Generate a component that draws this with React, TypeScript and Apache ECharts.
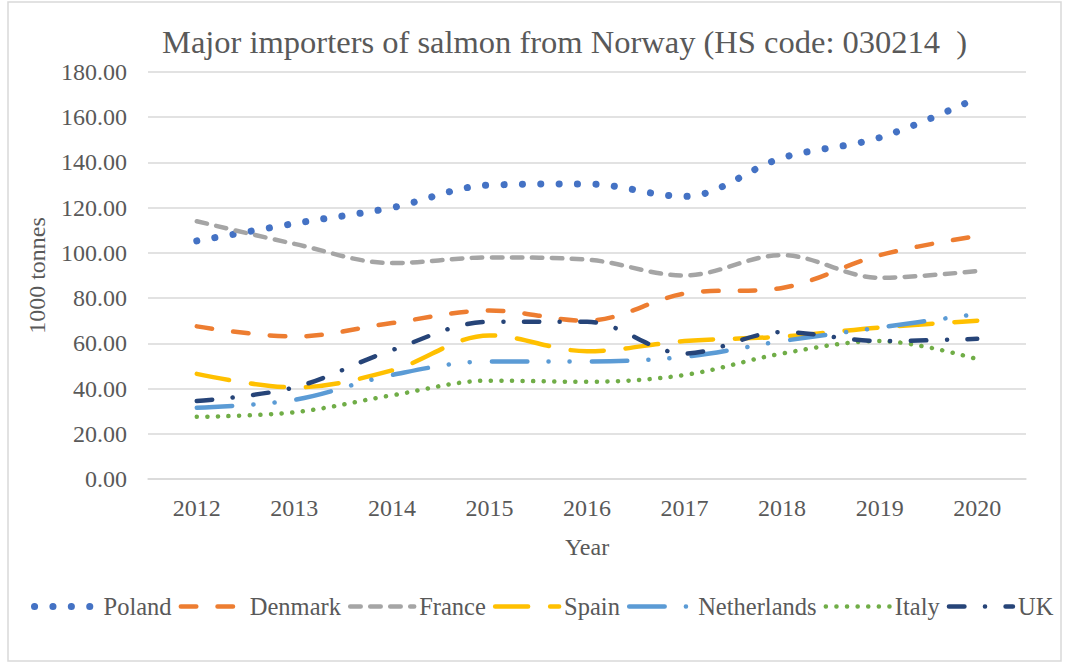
import React, { useEffect, useRef } from "react";
import * as echarts from "echarts";

const years = ["2012", "2013", "2014", "2015", "2016", "2017", "2018", "2019", "2020"];
const poland = [105.3, 113.0, 120.0, 130.0, 130.5, 125.0, 142.0, 151.0, 168.5];
const denmark = [67.5, 63.0, 69.0, 74.5, 70.0, 82.0, 84.5, 99.0, 107.5];
const france = [114.0, 104.0, 95.5, 98.0, 97.0, 90.0, 99.0, 89.0, 92.0];
const spain = [46.5, 40.5, 48.0, 63.5, 56.5, 61.0, 63.0, 67.0, 70.0];
const netherlands = [31.5, 35.0, 46.0, 52.0, 52.0, 54.0, 61.0, 67.0, 73.0];
const italy = [27.5, 29.5, 37.0, 43.5, 43.0, 46.0, 55.5, 61.0, 53.0];
const uk = [34.5, 40.5, 57.0, 69.5, 69.5, 55.5, 65.0, 61.0, 62.0];

const FONT = "Liberation Serif";
const GREY = "#595959";

export default function App() {
  const ref = useRef<HTMLDivElement>(null);
  useEffect(() => {
    const chart = echarts.init(ref.current!, null, { renderer: "svg" });
    const mk = (name: string, data: number[], color: string, width: number, dash: number[]) => ({
      name,
      type: "line",
      data,
      smooth: 0.35,
      symbol: "none",
      showSymbol: false,
      lineStyle: { color, width, type: dash, cap: "round", join: "round" },
      itemStyle: { color },
    });
    chart.setOption({
      animation: false,
      title: {
        text: "Major importers of salmon from Norway (HS code: 030214  )",
        left: 157,
        top: 20,
        textStyle: { fontFamily: FONT, fontSize: 32.5, fontWeight: "normal", color: GREY },
      },
      grid: { left: 148, right: 40, top: 72, bottom: 185 },
      xAxis: {
        type: "category",
        data: years,
        boundaryGap: true,
        name: "Year",
        nameLocation: "middle",
        nameGap: 56,
        nameTextStyle: { fontFamily: FONT, fontSize: 24, color: GREY },
        axisLine: { lineStyle: { color: "#d9d9d9", width: 1.5 } },
        axisTick: { show: false },
        axisLabel: { fontFamily: FONT, fontSize: 24, color: GREY, margin: 17 },
      },
      yAxis: {
        type: "value",
        min: 0,
        max: 180,
        interval: 20,
        name: "1000 tonnes",
        nameLocation: "middle",
        nameGap: 99,
        nameTextStyle: { fontFamily: FONT, fontSize: 24, color: GREY },
        axisLabel: { fontFamily: FONT, fontSize: 24, color: GREY, margin: 21, formatter: (v: number) => v.toFixed(2) },
        splitLine: { lineStyle: { color: "#d9d9d9", width: 1.5 } },
        axisLine: { show: false },
        axisTick: { show: false },
      },
      legend: {
        bottom: 40,
        left: 26,
        itemWidth: 64,
        itemHeight: 10,
        itemGap: 7,
        itemStyle: { opacity: 0 },
        lineStyle: { width: "inherit" },
        textStyle: { fontFamily: FONT, fontSize: 24.5, color: GREY },
        data: ["Poland", "Denmark", "France", "Spain", "Netherlands", "Italy", "UK"],
      },
      graphic: [
        {
          type: "rect",
          shape: { x: 8, y: 2, width: 1053, height: 659 },
          style: { fill: "none", stroke: "#d9d9d9", lineWidth: 1.5 },
          silent: true,
        },
      ],
      series: [
        mk("Poland", poland, "#4472c4", 7, [0.1, 18.3]),
        mk("Denmark", denmark, "#ed7d31", 4.5, [15.5, 21.2]),
        mk("France", france, "#a5a5a5", 4.5, [10.5, 9.5]),
        mk("Spain", spain, "#ffc000", 4.5, [33, 22]),
        mk("Netherlands", netherlands, "#5b9bd5", 4.5, [35.5, 21.2, 0.1, 21, 0.1, 22]),
        mk("Italy", italy, "#70ad47", 4.5, [0.1, 10.5]),
        mk("UK", uk, "#264478", 4.5, [15.5, 20.5, 0.1, 20.5]),
      ],
    });
    return () => chart.dispose();
  }, []);
  return (
    <div
      ref={ref}
      style={{ position: "fixed", left: 0, top: 0, width: 1066, height: 664, background: "#fff" }}
    />
  );
}
